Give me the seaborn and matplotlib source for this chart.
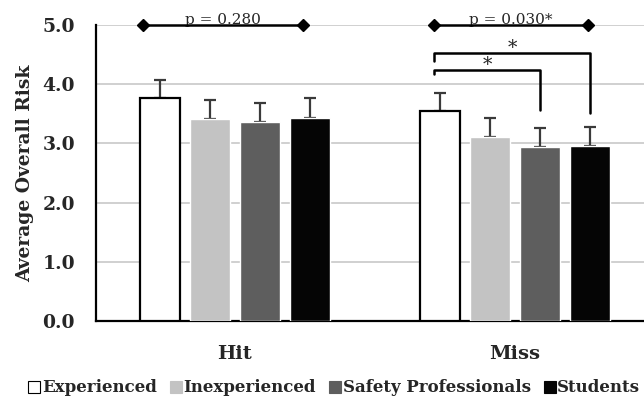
import numpy as np
import pandas as pd
import seaborn as sns
import matplotlib.pyplot as plt
from matplotlib.lines import Line2D

# values
conditions = ['Hit', 'Miss']
groups = ['Experienced', 'Inexperienced', 'Safety Professionals', 'Students']
hit_means = [3.77, 3.41, 3.36, 3.43]
miss_means = [3.55, 3.11, 2.94, 2.96]
hit_err = [0.30, 0.32, 0.32, 0.34]
miss_err = [0.30, 0.32, 0.32, 0.32]
colors = ['#ffffff', '#c3c3c3', '#5e5e5e', '#050505']

df = pd.DataFrame({
    'Condition': np.repeat(conditions, len(groups)),
    'Group': groups * 2,
    'Risk': hit_means + miss_means,
    'Err': hit_err + miss_err,
})

sns.set_style('white')
plt.rcParams['font.family'] = ['DejaVu Serif']

fig = plt.figure(figsize=(6.44, 4.04), dpi=100)
ax = fig.add_axes([0.149, 0.2054, 0.851, 0.7328])

sns.barplot(data=df, x='Condition', y='Risk', hue='Group', palette=colors,
            width=0.714, gap=0.2, ax=ax, legend=False, zorder=3)

# outline the white bars, pull out centers for error bars
centers = {}
for i, g in enumerate(groups):
    cont = ax.containers[i]
    for j, bar in enumerate(cont):
        if i == 0:
            bar.set_edgecolor('black')
            bar.set_linewidth(1.6)
        centers[(conditions[j], g)] = bar.get_x() + bar.get_width() / 2

xs = [centers[(c, g)] for c, g in zip(df['Condition'], df['Group'])]
ax.errorbar(xs, df['Risk'], yerr=[np.zeros(len(df)), df['Err']], fmt='none',
            ecolor='#3a3a3a', elinewidth=1.6, capsize=4, capthick=1.6, zorder=2)

ax.set_ylim(0, 5)
ax.set_xlim(-0.496, 1.46)
ax.set_yticks(np.arange(0, 5.01, 1.0))
ax.set_yticklabels([f'{v:.1f}' for v in np.arange(0, 5.01, 1.0)],
                   fontsize=13.5, fontweight='bold')
ax.set_xticks([0, 1])
ax.set_xticklabels(conditions, fontsize=14, fontweight='bold')
ax.tick_params(axis='y', length=0, pad=15)
ax.tick_params(axis='x', length=0, pad=17)
ax.set_xlabel('')
ax.set_ylabel('Average Overall Risk', fontsize=13.5, fontweight='bold', labelpad=6)
ax.yaxis.grid(True, color='#c8c8c8', lw=1.2, zorder=0)
ax.set_axisbelow(True)
for s in ['top', 'right']:
    ax.spines[s].set_visible(False)
for s in ['left', 'bottom']:
    ax.spines[s].set_color('black')
    ax.spines[s].set_linewidth(1.6)

# overall p-value lines
p_lines = [(-0.329, 0.243, 'p = 0.280'), (0.711, 1.261, 'p = 0.030*')]
for x0, x1, txt in p_lines:
    ax.plot([x0, x1], [5.0, 5.0], color='black', lw=1.8, marker='D', ms=6,
            clip_on=False, zorder=5)
    ax.text((x0 + x1) / 2, 4.97, txt, ha='center', va='bottom', fontsize=11,
            clip_on=False, zorder=4)

# pairwise brackets in the Miss group
exp_x = centers[('Miss', 'Experienced')] - 0.02
brackets = [('Students', 4.53, 4.39, 3.51), ('Safety Professionals', 4.24, 4.17, 3.56)]
for g, top, left_end, right_end in brackets:
    rx = centers[('Miss', g)]
    ax.plot([exp_x, exp_x, rx, rx], [left_end, top, top, right_end],
            color='black', lw=1.8, zorder=5)
    ax.text((exp_x + rx) / 2, top + 0.08, '*', ha='center', va='center',
            fontsize=13.5)

handles = [Line2D([], [], marker='s', ls='', ms=8, markerfacecolor=c,
                  markeredgecolor='black' if c == '#ffffff' else c,
                  markeredgewidth=0.8) for c in colors]
fig.legend(handles, groups, loc='center', bbox_to_anchor=(0.52, 0.04), ncol=4,
           frameon=False, handlelength=0.6, handletextpad=0.15, columnspacing=0.85,
           prop={'size': 12, 'weight': 'bold'})

fig.savefig('out.png', dpi=100)
